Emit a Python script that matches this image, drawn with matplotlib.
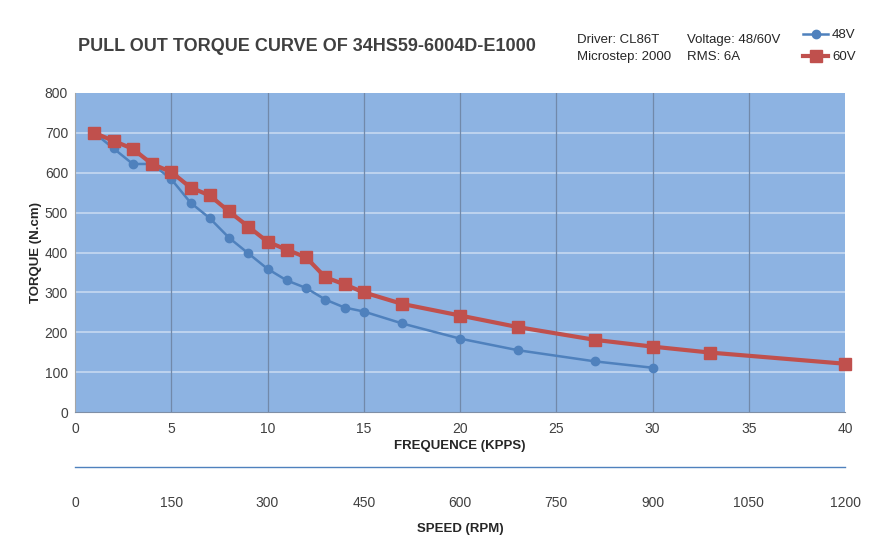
import matplotlib
matplotlib.use('Agg')
import matplotlib.pyplot as plt
import numpy as np

plt.rcParams['font.family'] = ['Liberation Sans', 'DejaVu Sans']

# data
freq_48 = [1, 2, 3, 4, 5, 6, 7, 8, 9, 10, 11, 12, 13, 14, 15, 17, 20, 23, 27, 30]
torque_48 = [700, 661, 622, 622, 584, 525, 486, 437, 398, 359, 330, 311, 282, 262, 252, 222, 184, 155, 127, 111]
freq_60 = [1, 2, 3, 4, 5, 6, 7, 8, 9, 10, 11, 12, 13, 14, 15, 17, 20, 23, 27, 30, 33, 40]
torque_60 = [700, 680, 660, 622, 602, 563, 543, 503, 465, 427, 407, 388, 338, 320, 300, 271, 242, 213, 181, 164, 149, 121]
freq_ticks = [0, 5, 10, 15, 20, 25, 30, 35, 40]
speed_ticks = [0, 150, 300, 450, 600, 750, 900, 1050, 1200]
torque_ticks = [0, 100, 200, 300, 400, 500, 600, 700, 800]

W, H = 877, 553
fig = plt.figure(figsize=(W / 100, H / 100), dpi=100)

def box(x0, y0, x1, y1):
    return [x0 / W, 1 - y1 / H, (x1 - x0) / W, (y1 - y0) / H]

txt = '#404040'
ax = fig.add_axes(box(75, 93, 845, 412))
ax.set_facecolor('#8DB3E2')
ax.set_xlim(0, 40)
ax.set_ylim(0, 800)
ax.set_xticks(freq_ticks)
ax.set_yticks(torque_ticks)
for y in torque_ticks[1:-1]:
    ax.axhline(y, color='#C6D9F1', lw=1.2, zorder=1)
for x in freq_ticks[1:-1]:
    ax.axvline(x, color='#7189AA', lw=0.9, zorder=1)
for s in ['top', 'right']:
    ax.spines[s].set_visible(False)
ax.spines['left'].set_color('#A6A6A6')
ax.spines['bottom'].set_color('#7F8FA6')
ax.tick_params(length=0, labelsize=10, colors=txt, pad=5)
ax.tick_params(axis='x', pad=7)

ax.plot(freq_48, torque_48, color='#4F81BD', lw=1.8, marker='o', ms=6,
        zorder=3, label='48V', clip_on=False)
ax.plot(freq_60, torque_60, color='#C0504D', lw=3.0, marker='s', ms=9,
        zorder=4, label='60V', clip_on=False)

ax.set_xlabel('FREQUENCE (KPPS)', fontsize=9.5, fontweight='bold', color='#262626', labelpad=3)
ax.set_ylabel('TORQUE (N.cm)', fontsize=9.5, fontweight='bold', color='#262626', labelpad=2)

# speed axis below
ax2 = fig.add_axes(box(75, 467, 845, 490))
ax2.set_xlim(0, 1200)
ax2.set_xticks(speed_ticks)
ax2.set_yticks([])
for s in ['bottom', 'left', 'right']:
    ax2.spines[s].set_visible(False)
ax2.spines['top'].set_color('#4F81BD')
ax2.spines['top'].set_linewidth(1.0)
ax2.patch.set_alpha(0)
ax2.tick_params(length=0, labelsize=10, colors=txt, pad=4)
ax2.set_xlabel('SPEED (RPM)', fontsize=9.5, fontweight='bold', color='#262626', labelpad=10)

fig.text(307 / W, 1 - 47 / H, 'PULL OUT TORQUE CURVE OF 34HS59-6004D-E1000',
         ha='center', va='center', fontsize=13, fontweight='bold', color='#404040')
fig.text(577 / W, 1 - 40 / H, 'Driver: CL86T', ha='left', va='center', fontsize=9.5, color='#262626')
fig.text(577 / W, 1 - 57 / H, 'Microstep: 2000', ha='left', va='center', fontsize=9.5, color='#262626')
fig.text(687 / W, 1 - 40 / H, 'Voltage: 48/60V', ha='left', va='center', fontsize=9.5, color='#262626')
fig.text(687 / W, 1 - 57 / H, 'RMS: 6A', ha='left', va='center', fontsize=9.5, color='#262626')

fig.legend(loc='upper left', bbox_to_anchor=(803 / W, 1 - 29 / H), frameon=False,
           fontsize=9.5, handlelength=1.9, handletextpad=0.3, labelspacing=0.75,
           borderaxespad=0, borderpad=0, labelcolor='#262626')

fig.savefig('out.png', dpi=100)
